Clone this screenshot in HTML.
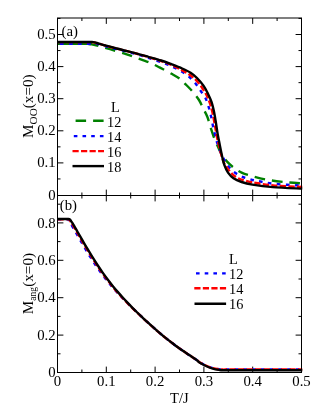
<!DOCTYPE html><html><head><meta charset="utf-8"><title>fig</title>
<style>html,body{margin:0;padding:0;background:#fff;overflow:hidden;}svg{display:block;will-change:transform;}text{font-family:"Liberation Serif",serif;fill:#000;}</style></head><body>
<svg width="332" height="417" viewBox="0 0 332 417">
<rect x="0" y="0" width="332" height="417" fill="#fff"/>
<defs><clipPath id="ca"><rect x="57.50" y="18.00" width="245.00" height="177.50"/></clipPath>
<clipPath id="cb"><rect x="57.50" y="195.50" width="245.00" height="177.00"/></clipPath></defs>
<line x1="57.50" y1="18.00" x2="57.50" y2="23.90" stroke="#000" stroke-width="1.0"/>
<line x1="57.50" y1="189.60" x2="57.50" y2="201.40" stroke="#000" stroke-width="1.0"/>
<line x1="57.50" y1="366.60" x2="57.50" y2="372.50" stroke="#000" stroke-width="1.0"/>
<line x1="81.90" y1="18.00" x2="81.90" y2="21.00" stroke="#000" stroke-width="1.0"/>
<line x1="81.90" y1="192.50" x2="81.90" y2="198.50" stroke="#000" stroke-width="1.0"/>
<line x1="81.90" y1="369.50" x2="81.90" y2="372.50" stroke="#000" stroke-width="1.0"/>
<line x1="106.30" y1="18.00" x2="106.30" y2="23.90" stroke="#000" stroke-width="1.0"/>
<line x1="106.30" y1="189.60" x2="106.30" y2="201.40" stroke="#000" stroke-width="1.0"/>
<line x1="106.30" y1="366.60" x2="106.30" y2="372.50" stroke="#000" stroke-width="1.0"/>
<line x1="130.70" y1="18.00" x2="130.70" y2="21.00" stroke="#000" stroke-width="1.0"/>
<line x1="130.70" y1="192.50" x2="130.70" y2="198.50" stroke="#000" stroke-width="1.0"/>
<line x1="130.70" y1="369.50" x2="130.70" y2="372.50" stroke="#000" stroke-width="1.0"/>
<line x1="155.10" y1="18.00" x2="155.10" y2="23.90" stroke="#000" stroke-width="1.0"/>
<line x1="155.10" y1="189.60" x2="155.10" y2="201.40" stroke="#000" stroke-width="1.0"/>
<line x1="155.10" y1="366.60" x2="155.10" y2="372.50" stroke="#000" stroke-width="1.0"/>
<line x1="179.50" y1="18.00" x2="179.50" y2="21.00" stroke="#000" stroke-width="1.0"/>
<line x1="179.50" y1="192.50" x2="179.50" y2="198.50" stroke="#000" stroke-width="1.0"/>
<line x1="179.50" y1="369.50" x2="179.50" y2="372.50" stroke="#000" stroke-width="1.0"/>
<line x1="203.90" y1="18.00" x2="203.90" y2="23.90" stroke="#000" stroke-width="1.0"/>
<line x1="203.90" y1="189.60" x2="203.90" y2="201.40" stroke="#000" stroke-width="1.0"/>
<line x1="203.90" y1="366.60" x2="203.90" y2="372.50" stroke="#000" stroke-width="1.0"/>
<line x1="228.30" y1="18.00" x2="228.30" y2="21.00" stroke="#000" stroke-width="1.0"/>
<line x1="228.30" y1="192.50" x2="228.30" y2="198.50" stroke="#000" stroke-width="1.0"/>
<line x1="228.30" y1="369.50" x2="228.30" y2="372.50" stroke="#000" stroke-width="1.0"/>
<line x1="252.70" y1="18.00" x2="252.70" y2="23.90" stroke="#000" stroke-width="1.0"/>
<line x1="252.70" y1="189.60" x2="252.70" y2="201.40" stroke="#000" stroke-width="1.0"/>
<line x1="252.70" y1="366.60" x2="252.70" y2="372.50" stroke="#000" stroke-width="1.0"/>
<line x1="277.10" y1="18.00" x2="277.10" y2="21.00" stroke="#000" stroke-width="1.0"/>
<line x1="277.10" y1="192.50" x2="277.10" y2="198.50" stroke="#000" stroke-width="1.0"/>
<line x1="277.10" y1="369.50" x2="277.10" y2="372.50" stroke="#000" stroke-width="1.0"/>
<line x1="301.50" y1="18.00" x2="301.50" y2="23.90" stroke="#000" stroke-width="1.0"/>
<line x1="301.50" y1="189.60" x2="301.50" y2="201.40" stroke="#000" stroke-width="1.0"/>
<line x1="301.50" y1="366.60" x2="301.50" y2="372.50" stroke="#000" stroke-width="1.0"/>
<line x1="57.50" y1="178.95" x2="60.50" y2="178.95" stroke="#000" stroke-width="1.0"/>
<line x1="298.50" y1="178.95" x2="301.50" y2="178.95" stroke="#000" stroke-width="1.0"/>
<line x1="57.50" y1="162.90" x2="63.40" y2="162.90" stroke="#000" stroke-width="1.0"/>
<line x1="295.60" y1="162.90" x2="301.50" y2="162.90" stroke="#000" stroke-width="1.0"/>
<line x1="57.50" y1="146.85" x2="60.50" y2="146.85" stroke="#000" stroke-width="1.0"/>
<line x1="298.50" y1="146.85" x2="301.50" y2="146.85" stroke="#000" stroke-width="1.0"/>
<line x1="57.50" y1="130.80" x2="63.40" y2="130.80" stroke="#000" stroke-width="1.0"/>
<line x1="295.60" y1="130.80" x2="301.50" y2="130.80" stroke="#000" stroke-width="1.0"/>
<line x1="57.50" y1="114.75" x2="60.50" y2="114.75" stroke="#000" stroke-width="1.0"/>
<line x1="298.50" y1="114.75" x2="301.50" y2="114.75" stroke="#000" stroke-width="1.0"/>
<line x1="57.50" y1="98.70" x2="63.40" y2="98.70" stroke="#000" stroke-width="1.0"/>
<line x1="295.60" y1="98.70" x2="301.50" y2="98.70" stroke="#000" stroke-width="1.0"/>
<line x1="57.50" y1="82.65" x2="60.50" y2="82.65" stroke="#000" stroke-width="1.0"/>
<line x1="298.50" y1="82.65" x2="301.50" y2="82.65" stroke="#000" stroke-width="1.0"/>
<line x1="57.50" y1="66.60" x2="63.40" y2="66.60" stroke="#000" stroke-width="1.0"/>
<line x1="295.60" y1="66.60" x2="301.50" y2="66.60" stroke="#000" stroke-width="1.0"/>
<line x1="57.50" y1="50.55" x2="60.50" y2="50.55" stroke="#000" stroke-width="1.0"/>
<line x1="298.50" y1="50.55" x2="301.50" y2="50.55" stroke="#000" stroke-width="1.0"/>
<line x1="57.50" y1="34.50" x2="63.40" y2="34.50" stroke="#000" stroke-width="1.0"/>
<line x1="295.60" y1="34.50" x2="301.50" y2="34.50" stroke="#000" stroke-width="1.0"/>
<line x1="57.50" y1="18.45" x2="60.50" y2="18.45" stroke="#000" stroke-width="1.0"/>
<line x1="298.50" y1="18.45" x2="301.50" y2="18.45" stroke="#000" stroke-width="1.0"/>
<line x1="57.50" y1="353.80" x2="60.50" y2="353.80" stroke="#000" stroke-width="1.0"/>
<line x1="298.50" y1="353.80" x2="301.50" y2="353.80" stroke="#000" stroke-width="1.0"/>
<line x1="57.50" y1="335.10" x2="63.40" y2="335.10" stroke="#000" stroke-width="1.0"/>
<line x1="295.60" y1="335.10" x2="301.50" y2="335.10" stroke="#000" stroke-width="1.0"/>
<line x1="57.50" y1="316.40" x2="60.50" y2="316.40" stroke="#000" stroke-width="1.0"/>
<line x1="298.50" y1="316.40" x2="301.50" y2="316.40" stroke="#000" stroke-width="1.0"/>
<line x1="57.50" y1="297.70" x2="63.40" y2="297.70" stroke="#000" stroke-width="1.0"/>
<line x1="295.60" y1="297.70" x2="301.50" y2="297.70" stroke="#000" stroke-width="1.0"/>
<line x1="57.50" y1="279.00" x2="60.50" y2="279.00" stroke="#000" stroke-width="1.0"/>
<line x1="298.50" y1="279.00" x2="301.50" y2="279.00" stroke="#000" stroke-width="1.0"/>
<line x1="57.50" y1="260.30" x2="63.40" y2="260.30" stroke="#000" stroke-width="1.0"/>
<line x1="295.60" y1="260.30" x2="301.50" y2="260.30" stroke="#000" stroke-width="1.0"/>
<line x1="57.50" y1="241.60" x2="60.50" y2="241.60" stroke="#000" stroke-width="1.0"/>
<line x1="298.50" y1="241.60" x2="301.50" y2="241.60" stroke="#000" stroke-width="1.0"/>
<line x1="57.50" y1="222.90" x2="63.40" y2="222.90" stroke="#000" stroke-width="1.0"/>
<line x1="295.60" y1="222.90" x2="301.50" y2="222.90" stroke="#000" stroke-width="1.0"/>
<line x1="57.50" y1="204.20" x2="60.50" y2="204.20" stroke="#000" stroke-width="1.0"/>
<line x1="298.50" y1="204.20" x2="301.50" y2="204.20" stroke="#000" stroke-width="1.0"/>
<g clip-path="url(#ca)">
<line x1="57.5" y1="43.9" x2="92" y2="43.9" stroke="#008000" stroke-width="2.4"/>
<path d="M57.50,43.90 C60.42,43.90 69.92,43.88 75.00,43.90 C80.08,43.92 85.03,43.88 88.00,44.00 C90.97,44.12 90.80,44.20 92.80,44.60 C94.80,45.00 97.13,45.63 100.00,46.40 C102.87,47.17 105.55,47.88 110.00,49.20 C114.45,50.52 121.12,52.43 126.70,54.30 C132.28,56.17 139.45,58.92 143.50,60.40 C147.55,61.88 148.33,62.03 151.00,63.20 C153.67,64.37 156.07,65.63 159.50,67.40 C162.93,69.17 168.17,71.87 171.60,73.80 C175.03,75.73 177.65,77.13 180.10,79.00 C182.55,80.87 184.20,82.88 186.30,85.00 C188.40,87.12 190.58,89.20 192.70,91.70 C194.82,94.20 197.25,97.20 199.00,100.00 C200.75,102.80 201.80,105.67 203.20,108.50 C204.60,111.33 206.17,113.83 207.40,117.00 C208.63,120.17 209.53,124.17 210.60,127.50 C211.67,130.83 212.55,133.73 213.80,137.00 C215.05,140.27 216.78,144.20 218.10,147.10 C219.42,150.00 220.20,151.98 221.70,154.40 C223.20,156.82 224.98,159.30 227.10,161.60 C229.22,163.90 231.98,166.37 234.40,168.20 C236.82,170.03 238.90,171.35 241.60,172.60 C244.30,173.85 246.50,174.53 250.60,175.70 C254.70,176.87 260.30,178.52 266.20,179.60 C272.10,180.68 279.95,181.55 286.00,182.20 C292.05,182.85 299.75,183.28 302.50,183.50" fill="none" stroke="#008000" stroke-width="2.4" stroke-dasharray="10.5,7" stroke-dashoffset="4.2"/>
<path d="M57.50,43.80 C60.42,43.80 69.58,43.80 75.00,43.80 C80.42,43.80 86.93,43.80 90.00,43.80 C93.07,43.80 92.23,43.80 93.40,43.80 C94.57,43.80 94.88,43.38 97.00,43.80 C99.12,44.22 102.83,45.42 106.10,46.30 C109.37,47.18 113.08,48.20 116.60,49.10 C120.12,50.00 123.68,50.80 127.20,51.70 C130.72,52.60 134.17,53.48 137.70,54.50 C141.23,55.52 143.80,56.28 148.40,57.80 C153.00,59.32 161.25,62.10 165.30,63.60 C169.35,65.10 170.07,65.53 172.70,66.80 C175.33,68.07 178.47,69.62 181.10,71.20 C183.73,72.78 186.13,74.30 188.50,76.30 C190.87,78.30 193.30,80.82 195.30,83.20 C197.30,85.58 198.82,88.13 200.50,90.60 C202.18,93.07 204.07,95.37 205.40,98.00 C206.73,100.63 207.53,103.23 208.50,106.40 C209.47,109.57 210.40,113.48 211.20,117.00 C212.00,120.52 212.45,123.67 213.30,127.50 C214.15,131.33 215.50,137.03 216.30,140.00 C217.10,142.97 217.15,142.72 218.10,145.30 C219.05,147.88 220.50,152.30 222.00,155.50 C223.50,158.70 225.35,161.95 227.10,164.50 C228.85,167.05 230.33,168.92 232.50,170.80 C234.67,172.68 237.43,174.47 240.10,175.80 C242.77,177.13 245.60,177.93 248.50,178.80 C251.40,179.67 253.08,180.15 257.50,181.00 C261.92,181.85 267.50,183.13 275.00,183.90 C282.50,184.67 297.92,185.32 302.50,185.60" fill="none" stroke="#0000ff" stroke-width="2.4" stroke-dasharray="3.7,5.3" stroke-dashoffset="6.6"/>
<path d="M57.50,42.15 C60.42,42.15 69.58,42.15 75.00,42.15 C80.42,42.15 86.93,42.13 90.00,42.15 C93.07,42.17 92.23,42.08 93.40,42.25 C94.57,42.42 94.88,42.56 97.00,43.15 C99.12,43.74 102.83,44.89 106.10,45.80 C109.37,46.71 113.08,47.70 116.60,48.60 C120.12,49.50 123.68,50.30 127.20,51.20 C130.72,52.10 134.18,53.02 137.70,54.00 C141.22,54.98 144.40,55.93 148.30,57.10 C152.20,58.27 157.22,59.68 161.10,61.00 C164.98,62.32 168.28,63.57 171.60,65.00 C174.92,66.43 178.10,68.05 181.00,69.60 C183.90,71.15 186.33,72.38 189.00,74.30 C191.67,76.22 194.62,78.55 197.00,81.10 C199.38,83.65 201.55,86.95 203.30,89.60 C205.05,92.25 206.30,94.43 207.50,97.00 C208.70,99.57 209.58,102.00 210.50,105.00 C211.42,108.00 212.25,111.50 213.00,115.00 C213.75,118.50 214.37,122.50 215.00,126.00 C215.63,129.50 216.17,132.83 216.80,136.00 C217.43,139.17 218.02,141.75 218.80,145.00 C219.58,148.25 220.63,152.50 221.50,155.50 C222.37,158.50 223.07,160.93 224.00,163.00 C224.93,165.07 225.77,166.10 227.10,167.90 C228.43,169.70 230.18,172.08 232.00,173.80 C233.82,175.52 235.50,176.98 238.00,178.20 C240.50,179.42 243.68,180.25 247.00,181.10 C250.32,181.95 253.23,182.55 257.90,183.30 C262.57,184.05 267.57,184.98 275.00,185.60 C282.43,186.22 297.92,186.77 302.50,187.00" fill="none" stroke="#ff0000" stroke-width="2.4" stroke-dasharray="6.2,2.33" stroke-dashoffset="0"/>
<path d="M57.50,42.00 C60.42,42.00 69.58,42.00 75.00,42.00 C80.42,42.00 86.93,41.98 90.00,42.00 C93.07,42.02 92.23,41.93 93.40,42.10 C94.57,42.27 94.88,42.40 97.00,43.00 C99.12,43.60 102.83,44.78 106.10,45.70 C109.37,46.62 113.08,47.60 116.60,48.50 C120.12,49.40 123.68,50.22 127.20,51.10 C130.72,51.98 134.18,52.85 137.70,53.80 C141.22,54.75 144.40,55.68 148.30,56.80 C152.20,57.92 157.22,59.25 161.10,60.50 C164.98,61.75 168.08,62.97 171.60,64.30 C175.12,65.63 179.03,67.10 182.20,68.50 C185.37,69.90 188.13,71.12 190.60,72.70 C193.07,74.28 194.88,75.88 197.00,78.00 C199.12,80.12 201.55,82.95 203.30,85.40 C205.05,87.85 206.12,89.90 207.50,92.70 C208.88,95.50 210.48,98.87 211.60,102.20 C212.72,105.53 213.47,109.18 214.20,112.70 C214.93,116.22 215.43,119.78 216.00,123.30 C216.57,126.82 217.02,130.43 217.60,133.80 C218.18,137.17 218.75,139.77 219.50,143.50 C220.25,147.23 221.28,152.58 222.10,156.20 C222.92,159.82 223.42,162.47 224.40,165.20 C225.38,167.93 226.48,170.42 228.00,172.60 C229.52,174.78 231.23,176.73 233.50,178.30 C235.77,179.87 238.45,180.95 241.60,182.00 C244.75,183.05 247.20,183.75 252.40,184.60 C257.60,185.45 264.45,186.43 272.80,187.10 C281.15,187.77 297.55,188.35 302.50,188.60" fill="none" stroke="#000000" stroke-width="2.4"/>
</g>
<g clip-path="url(#cb)">
<path d="M57.50,219.30 C58.48,219.30 61.75,219.31 63.38,219.30 C65.01,219.30 66.46,219.21 67.29,219.27 C68.12,219.33 68.06,219.36 68.38,219.66 C68.69,219.96 68.84,220.49 69.17,221.07 C69.51,221.66 69.36,221.38 70.40,223.15 C71.44,224.93 73.73,228.85 75.40,231.73 C77.07,234.60 78.73,237.55 80.40,240.43 C82.07,243.30 83.73,246.18 85.40,248.98 C87.07,251.78 88.75,254.55 90.44,257.22 C92.12,259.90 93.81,262.51 95.52,265.03 C97.23,267.56 98.97,270.00 100.71,272.37 C102.44,274.74 104.18,277.02 105.92,279.23 C107.67,281.44 109.41,283.57 111.17,285.64 C112.94,287.71 114.75,289.70 116.52,291.65 C118.30,293.59 120.07,295.47 121.83,297.30 C123.58,299.14 125.34,300.92 127.08,302.67 C128.81,304.42 130.53,306.13 132.25,307.81 C133.97,309.48 135.71,311.13 137.42,312.75 C139.12,314.37 140.82,315.96 142.50,317.54 C144.18,319.11 145.83,320.66 147.50,322.19 C149.17,323.72 150.83,325.23 152.50,326.71 C154.17,328.20 155.83,329.67 157.50,331.10 C159.17,332.54 160.83,333.96 162.50,335.34 C164.17,336.73 165.83,338.09 167.50,339.42 C169.17,340.74 170.83,342.04 172.50,343.30 C174.17,344.57 175.83,345.80 177.50,347.00 C179.17,348.21 180.83,349.37 182.50,350.52 C184.17,351.68 185.83,352.80 187.50,353.91 C189.17,355.03 190.83,356.10 192.50,357.21 C194.17,358.31 196.40,359.75 197.50,360.55 C198.60,361.35 198.02,361.32 199.10,362.02 C200.18,362.71 202.48,363.96 204.00,364.72 C205.52,365.48 206.87,366.08 208.20,366.60 C209.53,367.13 210.80,367.54 212.00,367.89 C213.20,368.24 214.23,368.47 215.40,368.70 C216.57,368.92 217.80,369.12 219.00,369.26 C220.20,369.40 220.43,369.49 222.60,369.52 C224.77,369.56 225.77,369.46 232.00,369.45 C238.23,369.44 248.25,369.45 260.00,369.45 C271.75,369.45 295.42,369.45 302.50,369.45" fill="none" stroke="#0000ff" stroke-width="2.4" stroke-dasharray="3.7,5.0" stroke-dashoffset="0"/>
<path d="M57.50,219.20 C58.53,219.20 61.96,219.20 63.69,219.20 C65.42,219.20 66.94,219.11 67.87,219.18 C68.80,219.25 68.86,219.29 69.26,219.60 C69.66,219.92 69.87,220.46 70.28,221.05 C70.68,221.64 70.63,221.37 71.70,223.15 C72.78,224.93 75.05,228.85 76.72,231.73 C78.40,234.60 80.07,237.55 81.74,240.43 C83.42,243.30 85.09,246.18 86.76,248.98 C88.44,251.78 90.11,254.55 91.79,257.22 C93.46,259.90 95.13,262.51 96.81,265.03 C98.48,267.56 100.15,270.00 101.83,272.37 C103.50,274.74 105.17,277.02 106.85,279.23 C108.52,281.44 110.20,283.57 111.87,285.64 C113.54,287.71 115.21,289.70 116.89,291.65 C118.57,293.59 120.26,295.47 121.95,297.30 C123.64,299.14 125.35,300.92 127.05,302.67 C128.75,304.42 130.45,306.13 132.15,307.81 C133.85,309.48 135.56,311.13 137.25,312.75 C138.94,314.37 140.63,315.96 142.31,317.54 C143.99,319.11 145.66,320.66 147.33,322.19 C149.00,323.72 150.68,325.23 152.35,326.71 C154.02,328.20 155.70,329.67 157.37,331.10 C159.04,332.54 160.72,333.96 162.39,335.34 C164.06,336.73 165.74,338.09 167.41,339.42 C169.08,340.74 170.76,342.04 172.43,343.30 C174.10,344.57 175.78,345.80 177.45,347.00 C179.12,348.21 180.80,349.37 182.47,350.52 C184.14,351.68 185.82,352.80 187.49,353.91 C189.16,355.03 190.83,356.10 192.50,357.21 C194.17,358.31 196.40,359.75 197.50,360.55 C198.60,361.35 198.02,361.32 199.10,362.02 C200.18,362.71 202.48,363.95 204.00,364.72 C205.52,365.49 206.87,366.09 208.20,366.62 C209.53,367.15 210.80,367.57 212.00,367.92 C213.20,368.28 214.23,368.52 215.40,368.75 C216.57,368.98 217.80,369.17 219.00,369.31 C220.20,369.45 220.43,369.54 222.60,369.57 C224.77,369.61 225.77,369.51 232.00,369.50 C238.23,369.49 248.25,369.50 260.00,369.50 C271.75,369.50 295.42,369.50 302.50,369.50" fill="none" stroke="#ff0000" stroke-width="2.4" stroke-dasharray="6.2,2.33" stroke-dashoffset="0"/>
<path d="M57.50,219.00 C58.58,219.00 62.18,219.00 64.00,219.00 C65.82,219.00 67.42,218.92 68.40,219.00 C69.38,219.08 69.47,219.17 69.90,219.50 C70.33,219.83 70.57,220.39 71.00,221.00 C71.43,221.61 71.42,221.37 72.50,223.15 C73.58,224.94 75.83,228.85 77.50,231.73 C79.17,234.60 80.83,237.55 82.50,240.43 C84.17,243.30 85.83,246.18 87.50,248.98 C89.17,251.78 90.83,254.55 92.50,257.22 C94.17,259.90 95.83,262.51 97.50,265.03 C99.17,267.56 100.83,270.00 102.50,272.37 C104.17,274.74 105.83,277.02 107.50,279.23 C109.17,281.44 110.83,283.57 112.50,285.64 C114.17,287.71 115.83,289.70 117.50,291.65 C119.17,293.59 120.83,295.47 122.50,297.30 C124.17,299.14 125.83,300.92 127.50,302.67 C129.17,304.42 130.83,306.13 132.50,307.81 C134.17,309.48 135.83,311.13 137.50,312.75 C139.17,314.37 140.83,315.96 142.50,317.54 C144.17,319.11 145.83,320.66 147.50,322.19 C149.17,323.72 150.83,325.23 152.50,326.71 C154.17,328.20 155.83,329.67 157.50,331.10 C159.17,332.54 160.83,333.96 162.50,335.34 C164.17,336.73 165.83,338.09 167.50,339.42 C169.17,340.74 170.83,342.04 172.50,343.30 C174.17,344.57 175.83,345.80 177.50,347.00 C179.17,348.21 180.83,349.37 182.50,350.52 C184.17,351.68 185.83,352.79 187.50,353.91 C189.17,355.03 190.83,356.13 192.50,357.26 C194.17,358.39 196.40,359.88 197.50,360.70 C198.60,361.52 198.02,361.48 199.10,362.20 C200.18,362.92 202.48,364.20 204.00,365.00 C205.52,365.80 206.87,366.43 208.20,367.00 C209.53,367.57 210.80,368.02 212.00,368.40 C213.20,368.78 214.23,369.05 215.40,369.30 C216.57,369.55 217.80,369.75 219.00,369.90 C220.20,370.05 220.43,370.15 222.60,370.20 C224.77,370.25 225.77,370.20 232.00,370.20 C238.23,370.20 248.25,370.20 260.00,370.20 C271.75,370.20 295.42,370.20 302.50,370.20" fill="none" stroke="#000000" stroke-width="2.4"/>
</g>
<rect x="57.50" y="18.00" width="244.00" height="354.50" fill="none" stroke="#000" stroke-width="1.0"/>
<line x1="57.50" y1="195.50" x2="301.50" y2="195.50" stroke="#000" stroke-width="1.0"/>
<text x="57.50" y="385.5" font-size="14.8" text-anchor="middle">0</text>
<text x="106.30" y="385.5" font-size="14.8" text-anchor="middle">0.1</text>
<text x="155.10" y="385.5" font-size="14.8" text-anchor="middle">0.2</text>
<text x="203.90" y="385.5" font-size="14.8" text-anchor="middle">0.3</text>
<text x="252.70" y="385.5" font-size="14.8" text-anchor="middle">0.4</text>
<text x="301.50" y="385.5" font-size="14.8" text-anchor="middle">0.5</text>
<text x="55.7" y="200.30" font-size="14.8" text-anchor="end">0</text>
<text x="55.7" y="167.40" font-size="14.8" text-anchor="end">0.1</text>
<text x="55.7" y="135.30" font-size="14.8" text-anchor="end">0.2</text>
<text x="55.7" y="103.20" font-size="14.8" text-anchor="end">0.3</text>
<text x="55.7" y="71.10" font-size="14.8" text-anchor="end">0.4</text>
<text x="55.7" y="39.00" font-size="14.8" text-anchor="end">0.5</text>
<text x="55.7" y="339.70" font-size="14.8" text-anchor="end">0.2</text>
<text x="55.7" y="302.30" font-size="14.8" text-anchor="end">0.4</text>
<text x="55.7" y="264.90" font-size="14.8" text-anchor="end">0.6</text>
<text x="55.7" y="227.50" font-size="14.8" text-anchor="end">0.8</text>
<text x="55.7" y="376.90" font-size="14.8" text-anchor="end">0</text>
<text x="179.3" y="403.2" font-size="14.5" text-anchor="middle">T/J</text>
<text x="61.6" y="35.7" font-size="14.8">(a)</text>
<text x="59.8" y="210.2" font-size="14.8">(b)</text>
<text transform="translate(33.2,137.9) rotate(-90)" font-size="15.2">M<tspan font-size="11.2" dy="3.5">OO</tspan><tspan dy="-3.5">(x=0)</tspan></text>
<text transform="translate(33.2,314.2) rotate(-90)" font-size="15.2">M<tspan font-size="9.6" dy="3.2">ang</tspan><tspan dy="-3.2">(x=0)</tspan></text>
<text x="111.1" y="112.2" font-size="14.3">L</text>
<line x1="75.60" y1="120.80" x2="104.20" y2="120.80" stroke="#008000" stroke-width="2.4" stroke-dasharray="10.5,7"/>
<text x="107.00" y="126.60" font-size="14.3">12</text>
<line x1="73.80" y1="136.10" x2="104.00" y2="136.10" stroke="#0000ff" stroke-width="2.4" stroke-dasharray="3.6,5.1"/>
<text x="107.00" y="141.70" font-size="14.3">14</text>
<line x1="72.50" y1="151.10" x2="104.00" y2="151.10" stroke="#ff0000" stroke-width="2.4" stroke-dasharray="6.2,2.33"/>
<text x="107.00" y="156.80" font-size="14.3">16</text>
<line x1="72.50" y1="166.10" x2="104.00" y2="166.10" stroke="#000000" stroke-width="2.4"/>
<text x="107.00" y="171.60" font-size="14.3">18</text>
<text x="229.1" y="264.0" font-size="14.3">L</text>
<line x1="196.00" y1="273.40" x2="226.10" y2="273.40" stroke="#0000ff" stroke-width="2.4" stroke-dasharray="3.6,5.1"/>
<text x="229.00" y="278.50" font-size="14.3">12</text>
<line x1="194.30" y1="288.30" x2="226.10" y2="288.30" stroke="#ff0000" stroke-width="2.4" stroke-dasharray="6.2,2.33"/>
<text x="229.00" y="293.80" font-size="14.3">14</text>
<line x1="194.50" y1="303.70" x2="226.10" y2="303.70" stroke="#000000" stroke-width="2.4"/>
<text x="229.00" y="309.00" font-size="14.3">16</text>
</svg></body></html>
